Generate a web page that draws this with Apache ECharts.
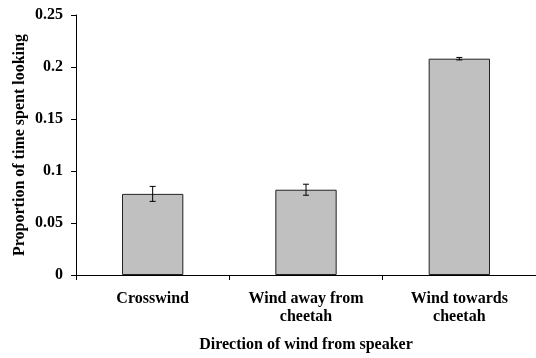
<!DOCTYPE html>
<html><head><meta charset="utf-8">
<script src="https://cdn.jsdelivr.net/npm/echarts@6/dist/echarts.min.js"></script>
<style>html,body{margin:0;padding:0;background:#fff}#c{width:536px;height:358px}</style>
</head><body><div id="c"></div>
<script>
const categories = ['Crosswind', 'Wind away from\ncheetah', 'Wind towards\ncheetah'];
const values = [0.078, 0.082, 0.208];
const errors = [0.0072, 0.0053, 0.0012];
const yTicks = [0, 0.05, 0.1, 0.15, 0.2, 0.25];

const font = 'Liberation Serif';
const chart = echarts.init(document.getElementById('c'));
chart.setOption({
  animation: false,
  grid: { left: 76, top: 15, bottom: 83, width: 465 },
  xAxis: {
    type: 'category', data: categories,
    name: 'Direction of wind from speaker', nameLocation: 'middle', nameGap: 62, nameMoveOverlap: false,
    nameTextStyle: { fontFamily: font, fontWeight: 'bold', fontSize: 16, color: '#000' },
    axisLine: { lineStyle: { color: '#000', width: 1 } },
    axisTick: { show: true, length: 5, lineStyle: { color: '#000' } },
    axisLabel: { fontFamily: font, fontWeight: 'bold', fontSize: 16, color: '#000', margin: 15, lineHeight: 18 }
  },
  yAxis: {
    type: 'value', min: 0, max: 0.25, interval: 0.05,
    name: 'Proportion of time spent looking', nameLocation: 'middle', nameGap: 48, nameMoveOverlap: false,
    nameTextStyle: { fontFamily: font, fontWeight: 'bold', fontSize: 16, color: '#000' },
    axisLine: { show: true, lineStyle: { color: '#000', width: 1 } },
    axisTick: { show: true, length: 5, lineStyle: { color: '#000' } },
    splitLine: { show: false },
    axisLabel: { fontFamily: font, fontWeight: 'bold', fontSize: 16, color: '#000', margin: 13,
      formatter: v => yTicks.indexOf(+v.toFixed(2)) >= 0 ? String(+v.toFixed(2)) : '' }
  },
  series: [
    { type: 'bar', data: values, barWidth: '40%',
      itemStyle: { color: '#c0c0c0', borderColor: '#222', borderWidth: 1 } },
    { type: 'custom', data: values.map((v, i) => [i, v, errors[i]]),
      renderItem: (params, api) => {
        const i = api.value(0), v = api.value(1), e = api.value(2);
        const hi = api.coord([i, v + e]), lo = api.coord([i, v - e]);
        const w = 3;
        const st = { stroke: '#000', lineWidth: 1 };
        return { type: 'group', children: [
          { type: 'line', shape: { x1: hi[0], y1: hi[1], x2: lo[0], y2: lo[1] }, style: st },
          { type: 'line', shape: { x1: hi[0] - w, y1: hi[1], x2: hi[0] + w, y2: hi[1] }, style: st },
          { type: 'line', shape: { x1: lo[0] - w, y1: lo[1], x2: lo[0] + w, y2: lo[1] }, style: st }
        ]};
      }, z: 5 }
  ]
});
</script></body></html>
